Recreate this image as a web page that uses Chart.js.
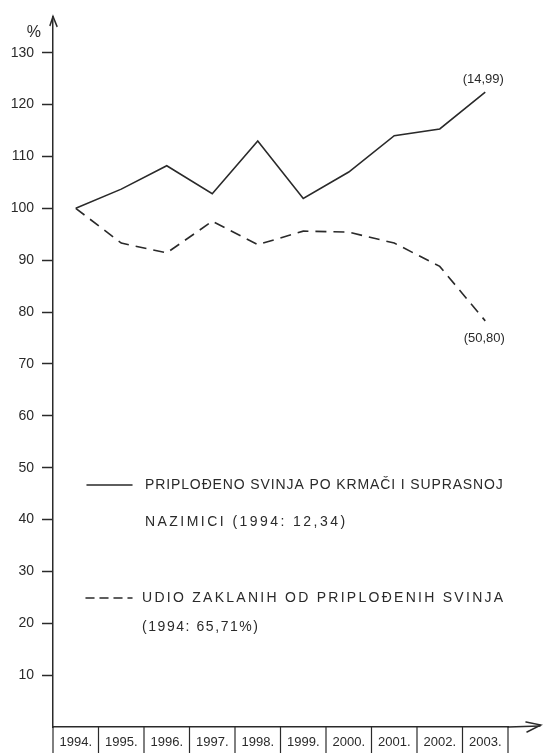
<!DOCTYPE html>
<html><head><meta charset="utf-8">
<script src="https://cdn.jsdelivr.net/npm/chart.js@4/dist/chart.umd.min.js"></script>
<style>html,body{margin:0;padding:0;background:#fff}#wrap{width:543px;height:753px}</style>
</head><body><div id="wrap"><canvas id="c" width="543" height="753"></canvas></div>
<script>
const years = ['1994.','1995.','1996.','1997.','1998.','1999.','2000.','2001.','2002.','2003.'];
const pigsPerSow = [100,103.7,108.2,102.8,113.0,101.9,107.0,114.0,115.3,122.4];
const slaughterShare = [100,93.3,91.4,97.5,93.0,95.6,95.4,93.3,88.8,78.3];
const yTickValues = [10,20,30,40,50,60,70,80,90,100,110,120,130];
const endLabels = ['(14,99)','(50,80)'];
const legendSolid = ['PRIPLOĐENO SVINJA PO KRMAČI I SUPRASNOJ','NAZIMICI (1994: 12,34)'];
const legendDashed = ['UDIO ZAKLANIH OD PRIPLOĐENIH SVINJA','(1994: 65,71%)'];
const unitLabel = '%';

const INK = '#2a2a2a';
const FONT = '"Liberation Sans", Arial, sans-serif';

function fitText(c, text, x, y, width) {
  c.letterSpacing = '0px';
  const w = c.measureText(text).width;
  const n = Math.max(1, text.length - 1);
  const sp = Math.max(0, (width - w) / n);
  c.letterSpacing = sp.toFixed(2) + 'px';
  c.fillText(text, x, y);
  c.letterSpacing = '0px';
}

const decor = {
  id: 'decor',
  beforeDraw(chart) {
    const c = chart.ctx;
    c.save(); c.fillStyle = '#fff'; c.fillRect(0,0,chart.width,chart.height); c.restore();
  },
  afterDraw(chart) {
    const c = chart.ctx, a = chart.chartArea;
    const xs = chart.scales.x;
    c.save();
    c.strokeStyle = INK; c.fillStyle = INK; c.lineWidth = 1.5; c.lineCap = 'round';
    // x-axis extension + arrow
    c.beginPath(); c.moveTo(a.right, a.bottom); c.lineTo(540, a.bottom - 1); c.stroke();
    c.beginPath(); c.moveTo(526, a.bottom - 5); c.lineTo(541, a.bottom - 2); c.lineTo(527, a.bottom + 5); c.stroke();
    // y-axis arrow
    c.beginPath(); c.moveTo(a.left - 3, a.top + 9); c.lineTo(a.left, a.top); c.lineTo(a.left + 4, a.top + 10); c.stroke();
    // unit
    c.font = '16px ' + FONT; c.textAlign = 'right'; c.textBaseline = 'middle';
    c.fillText(unitLabel, a.left - 12, a.top + 16);
    // category cells
    const half = (xs.getPixelForValue(1) - xs.getPixelForValue(0)) / 2;
    c.lineWidth = 1.2;
    for (let i = 0; i < years.length; i++) {
      const xb = xs.getPixelForValue(i) - half;
      c.beginPath(); c.moveTo(xb, a.bottom); c.lineTo(xb, chart.height); c.stroke();
    }
    const xe = xs.getPixelForValue(years.length - 1) + half;
    c.beginPath(); c.moveTo(xe, a.bottom); c.lineTo(xe, chart.height); c.stroke();
    // end labels
    c.font = '13px ' + FONT; c.textAlign = 'center'; c.textBaseline = 'middle';
    const m0 = chart.getDatasetMeta(0).data, m1 = chart.getDatasetMeta(1).data;
    const p0 = m0[m0.length - 1], p1 = m1[m1.length - 1];
    c.fillText(endLabels[0], p0.x - 2, p0.y - 13);
    c.fillText(endLabels[1], p1.x - 1, p1.y + 18);
    // legend
    c.lineWidth = 1.5;
    c.beginPath(); c.moveTo(87, 485); c.lineTo(132, 485); c.stroke();
    c.setLineDash([8, 6]);
    c.beginPath(); c.moveTo(86, 598); c.lineTo(132, 598); c.stroke();
    c.setLineDash([]);
    c.font = '14px ' + FONT; c.textAlign = 'left'; c.textBaseline = 'middle';
    fitText(c, legendSolid[0], 145, 485, 358);
    fitText(c, legendSolid[1], 145, 522, 200);
    fitText(c, legendDashed[0], 142, 598, 361);
    fitText(c, legendDashed[1], 142, 627, 116);
    c.restore();
  }
};

new Chart(document.getElementById('c'), {
  type: 'line',
  data: {
    labels: years,
    datasets: [
      { label: legendSolid.join(' '), data: pigsPerSow, borderColor: INK, borderWidth: 1.6, pointRadius: 0, tension: 0, fill: false },
      { label: legendDashed.join(' '), data: slaughterShare, borderColor: INK, borderWidth: 1.6, borderDash: [11, 7], pointRadius: 0, tension: 0, fill: false }
    ]
  },
  options: {
    responsive: false,
    animation: false,
    devicePixelRatio: 1,
    layout: { padding: { top: 15, right: 35, left: 0, bottom: 0 } },
    plugins: { legend: { display: false }, tooltip: { enabled: false } },
    scales: {
      x: {
        offset: true,
        afterFit: s => { s.height = 26; },
        grid: { display: true, drawOnChartArea: false, drawTicks: false, color: 'rgba(0,0,0,0)' },
        border: { display: true, color: INK, width: 1.5 },
        ticks: { color: INK, font: { family: FONT, size: 13 }, padding: 8, maxRotation: 0, autoSkip: false }
      },
      y: {
        min: 0, max: 137,
        afterFit: s => { s.width = 53; },
        afterBuildTicks: s => { s.ticks = yTickValues.map(v => ({ value: v })); },
        grid: { display: true, drawOnChartArea: false, drawTicks: true, tickLength: 11, tickColor: INK, tickWidth: 1.5 },
        border: { display: true, color: INK, width: 1.5 },
        ticks: { color: INK, font: { family: FONT, size: 14 }, padding: 8, callback: v => String(v) }
      }
    }
  },
  plugins: [decor]
});
</script>
</body></html>
